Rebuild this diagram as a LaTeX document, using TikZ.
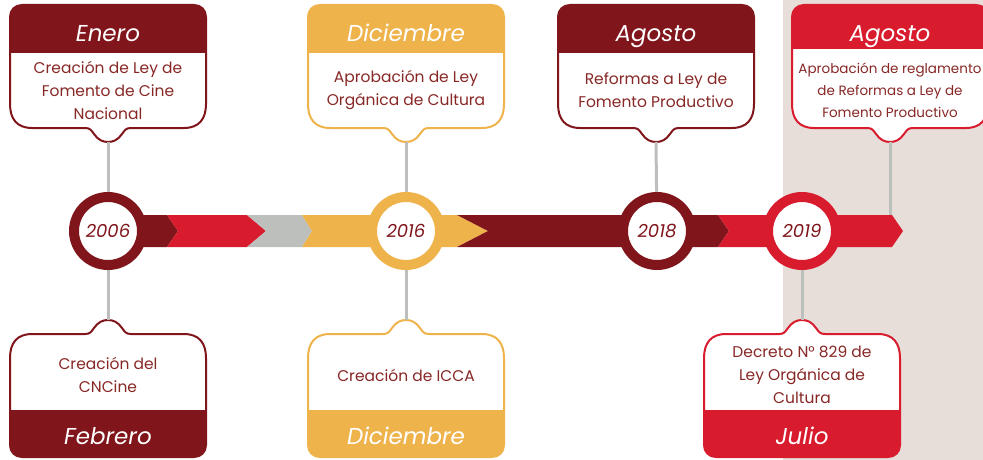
\documentclass[tikz,border=0pt]{standalone}
\usepackage{fontspec}
\setmainfont{Poppins}

\definecolor{wine}{RGB}{128,22,28}
\definecolor{scarlet}{RGB}{216,27,45}
\definecolor{mustard}{RGB}{239,179,76}
\definecolor{steel}{RGB}{189,191,189}
\definecolor{panel}{RGB}{231,221,217}
\definecolor{ink}{RGB}{135,40,38}

\tikzset{
  card outline/.style={insert path={(-98,17) .. controls (-98,10) and (-93,5) .. (-86,5)
    -- (86,5) .. controls (93,5) and (98,10) .. (98,17) -- (98,104)
    .. controls (98,119) and (91,128) .. (76,128) -- (23,128)
    .. controls (18,128) and (17,130) .. (14,134) .. controls (10,140) and (5,142) .. (0,142)
    .. controls (-5,142) and (-10,140) .. (-14,134) .. controls (-17,130) and (-18,128) .. (-23,128)
    -- (-76,128) .. controls (-91,128) and (-98,119) .. (-98,104) -- cycle}},
  card head/.style={insert path={(-98,#1) -- (-98,17) .. controls (-98,10) and (-93,5) .. (-86,5)
    -- (86,5) .. controls (93,5) and (98,10) .. (98,17) -- (98,#1) -- cycle}}
}

% top card: name, x, colour, month, text, head bottom
\newcommand{\topcard}[6]{%
  \begin{scope}[shift={(#2,0)}]
    \fill[white,card outline];
    \fill[#3,card head=#6];
    \draw[#3,line width=2,card outline];
  \end{scope}
  \node[month node] (#1 month) at (#2,42) {#4};
  \node[card text] (#1 text) at (#2,90) {#5};
  \coordinate (#1) at (#2,142);
}
% bottom card: name, x, colour, month, text
\newcommand{\bottomcard}[5]{%
  \begin{scope}[shift={(#2,462)},yscale=-1]
    \fill[white,card outline];
    \fill[#3,card head=52];
    \draw[#3,line width=2,card outline];
  \end{scope}
  \node[month node] (#1 month) at (#2,444) {#4};
  \node[card text] (#1 text) at (#2,375) {#5};
  \coordinate (#1) at (#2,320);
}

\begin{document}
\begin{tikzpicture}[x=1pt,y=-1pt,
    month node/.style={anchor=base,text=white,font=\fontsize{23}{25}\selectfont\itshape},
    card text/.style={align=center,text=ink,font=\fontsize{15.5}{23}\selectfont},
    year node/.style={circle,fill=white,line width=10,minimum size=68,inner sep=0,
      text=wine,font=\fontsize{18}{20}\selectfont\itshape},
    link/.style={steel,line width=3}]

  \useasboundingbox (0,0) rectangle (983,460);
  \fill[panel] (783,0) rectangle (983,460);

  % cards
  \topcard{enero}{108}{wine}{Enero}{Creación de Ley de\\Fomento de Cine\\Nacional}{53}
  \topcard{dic top}{406}{mustard}{Diciembre}{Aprobación de Ley\\Orgánica de Cultura}{53}
  \topcard{ago}{656}{wine}{Agosto}{Reformas a Ley de\\Fomento Productivo}{53}
  \topcard{regl}{890}{scarlet}{Agosto}{}{49}
  \node[card text,font=\fontsize{13.5}{22}\selectfont] (regl text) at (890,90)
    {Aprobación de reglamento\\de Reformas a Ley de\\Fomento Productivo};
  \bottomcard{feb}{108}{wine}{Febrero}{Creación del\\CNCine}
  \bottomcard{dic bot}{406}{mustard}{Diciembre}{Creación de ICCA}
  \bottomcard{julio}{802}{scarlet}{Julio}{Decreto N° 829 de\\Ley Orgánica de\\Cultura}

  \coordinate (c2006) at (108,231);
  \coordinate (c2016) at (406,231);
  \coordinate (c2018) at (657,231);
  \coordinate (c2019) at (802,231);
  \coordinate (band end) at (890,215);

  % connectors
  \draw[link] (enero) -- (c2006);
  \draw[link] (c2006) -- (feb);
  \draw[link] (dic top) -- (c2016);
  \draw[link] (c2016) -- (dic bot);
  \draw[link] (ago) -- (c2018);
  \draw[link] (c2019) -- (julio);
  \draw[link] (regl) -- (band end);

  % band
  \fill[wine] (108,215) -- (167,215) -- (178,231) -- (167,247) -- (108,247) -- cycle;
  \foreach \xa/\xb/\xc/\xd/\col in {167/178/247/266/scarlet, 247/266/302/312/steel,
      302/312/457/488/mustard, 457/488/718/729/wine, 718/729/892/903/scarlet}
    \fill[\col] (\xa,215) -- (\xc,215) -- (\xd,231) -- (\xc,247) -- (\xa,247) -- (\xb,231) -- cycle;

  % years
  \node[year node,draw=wine] (y2006) at (c2006) {2006};
  \node[year node,draw=mustard] (y2016) at (c2016) {2016};
  \node[year node,draw=wine] (y2018) at (c2018) {2018};
  \node[year node,draw=scarlet] (y2019) at (c2019) {2019};
\end{tikzpicture}
\end{document}
